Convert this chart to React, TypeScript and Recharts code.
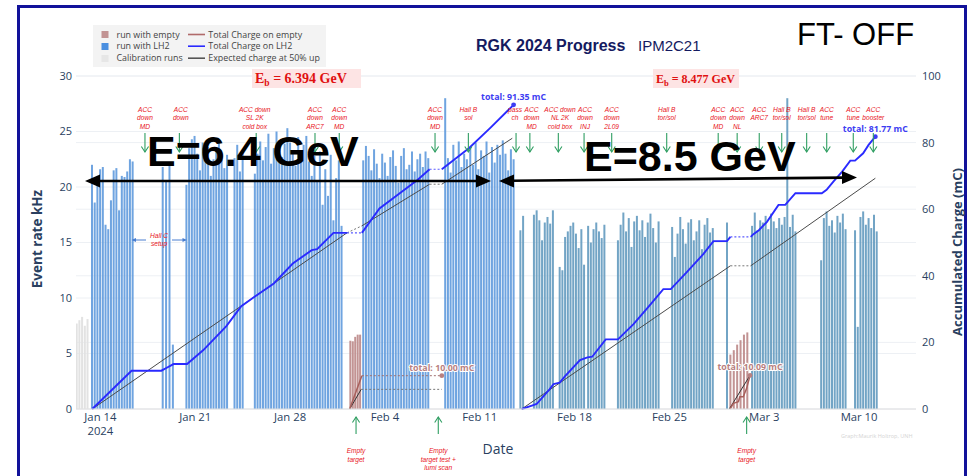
import React from "react";
import {
  ComposedChart,
  Bar,
  Line,
  XAxis,
  YAxis,
  CartesianGrid,
  ReferenceDot,
} from "recharts";

// Day offsets are counted from Jan 14 2024 (day 0).
const DATE_TICKS = [0, 7, 14, 21, 28, 35, 42, 49, 56];
const DATE_LABELS = ["Jan 14", "Jan 21", "Jan 28", "Feb 4", "Feb 11", "Feb 18", "Feb 25", "Mar 3", "Mar 10"];
const RATE_TICKS = [0, 5, 10, 15, 20, 25, 30];
const CHARGE_TICKS = [0, 20, 40, 60, 80, 100];

// Run blocks: [first run day, spacing between runs (days), event rates in kHz]
type Block = [number, number, number[]];

const calibrationRuns: Block[] = [[-1.75, 0.2, [7.7, 8.0, 8.3, 7.5, 8.1]]];

const lh2RunsLow: Block[] = [
  [-0.62, 0.2, [22.0, 18.6, 21.0, 21.6, 21.8, 16.6, 16.2, 18.8, 21.5, 21.7, 17.9, 21.0, 20.9, 21.4, 22.5, 22.3]],
  [4.6, 0.25, [21.8, 20.5, 22.2, 5.8]],
  [6.35, 0.2, [20.2, 23.5, 24.3, 24.6, 23.0, 21.5, 24.0, 22.8, 23.6, 21.0, 22.5, 23.4, 24.2, 23.0, 21.7, 22.9]],
  [9.9, 0.2, [22.6, 23.8, 21.4, 23.1]],
  [11.4, 0.2, [21.2, 23.0, 24.1, 22.4, 23.6, 24.8, 22.1, 23.5, 25.0, 24.2, 22.7, 23.9, 25.3, 24.0, 23.1, 21.9, 24.5, 22.6, 23.8, 24.6, 22.3, 21.0]],
  [15.8, 0.2, [22.8, 20.5, 23.2, 18.4, 21.6, 19.2, 22.9, 17.0, 20.8, 22.4, 16.5]],
  [19.4, 0.2, [22.4, 23.7, 22.8, 21.5, 23.4, 22.1, 20.8, 23.0, 22.2, 21.0, 22.7, 23.3, 21.9, 20.4, 22.8, 23.5, 21.6, 22.0, 23.2, 21.4, 22.5, 23.0, 21.8, 23.2, 22.6]],
  [25.45, 0.2, [28.0, 22.6, 21.3, 23.8, 22.4, 24.1, 21.8, 23.0, 22.5]],
  [27.3, 0.2, [23.5, 22.0, 24.0, 21.6, 23.3, 22.8, 24.1, 21.3, 23.6, 22.2, 23.8, 22.9, 24.2, 23.0, 21.5, 23.4, 22.5]],
];

const lh2RunsHigh: Block[] = [
  [31.0, 0.2, [16.1, 17.4]],
  [32.0, 0.2, [17.5, 17.9, 17.0, 15.2, 16.8, 17.3, 16.7, 17.9]],
  [33.9, 0.2, [12.8, 12.5, 15.5, 16.0, 16.5, 16.8, 15.8, 14.5, 16.2, 13.0]],
  [36.0, 0.2, [16.5, 15.0, 16.2, 16.8, 16.0, 15.4, 16.6]],
  [38.2, 0.2, [15.2, 16.6, 17.7, 16.0, 17.2, 14.6, 16.9, 17.4, 16.1, 17.0, 15.5, 16.8, 17.6, 16.3, 15.0, 16.9]],
  [42.2, 0.2, [16.4, 13.7, 15.8, 17.3, 16.2, 14.9, 16.8, 17.1, 15.2, 16.0, 17.0, 14.4, 16.6, 17.2, 15.9, 16.3]],
  [46.25, 0.2, [16.8]],
  [48.1, 0.2, [16.5, 17.7, 16.1, 17.0, 16.8, 17.4, 16.2, 17.6, 16.9, 16.3, 17.2, 16.6, 17.3, 28.0, 16.4, 17.5, 16.0]],
  [53.2, 0.2, [13.4, 17.2, 17.8, 16.5, 17.0, 15.9, 17.4, 16.8, 17.6, 16.2]],
  [55.7, 0.2, [16.1, 7.4, 17.3, 17.8, 16.6, 17.2, 16.3, 17.5, 16.0]],
];

const emptyRuns: Block[] = [
  [18.45, 0.18, [6.15, 6.1, 6.5, 6.7, 6.7]],
  [46.5, 0.25, [4.9, 5.3, 5.8, 6.2, 6.7, 6.9]],
];

// Accumulated charge (mC) vs day; solid pieces while taking data
type Pt = [number, number];
const lh2ChargeSegments: Pt[][] = [
  [[-0.6, 0], [2.3, 11.5], [4.5, 11.5], [4.9, 12.4], [5.4, 13.5], [6.4, 13.5], [7.6, 17.7], [9.3, 24.9], [10.4, 30.9], [11.3, 33.5], [12.8, 37.7], [14.2, 43.7], [15.6, 47.7], [16.0, 48.0], [17.2, 52.9], [18.2, 52.9]],
  [[19.3, 52.9], [20.6, 60.2], [22.0, 64.5], [23.4, 68.8], [24.3, 72.0]],
  [[25.2, 72.0], [27.2, 78.3], [28.8, 84.5], [30.5, 91.35]],
  [[31.1, 0], [31.85, 1.0], [32.2, 1.5], [33.15, 5.9], [33.45, 7.5], [33.9, 7.9], [34.3, 9.9], [35.4, 14.7], [35.95, 15.5], [36.3, 15.7], [37.3, 20.9], [38.2, 20.9], [39.35, 25.5], [40.45, 30.7], [41.55, 36.0], [42.1, 36.0], [43.3, 41.2], [44.5, 46.5], [45.25, 50.4], [46.25, 50.4], [46.5, 51.7]],
  [[48.0, 51.7], [48.2, 52.5], [48.6, 53.7], [49.2, 56.2], [50.05, 61.3], [50.55, 61.3], [51.3, 64.8], [53.25, 64.8], [53.6, 65.8], [54.1, 68.3], [54.75, 71.3], [55.35, 74.6], [55.7, 74.6], [56.3, 76.8], [56.7, 79.3], [57.2, 81.77]],
];

const expectedSegments: Pt[][] = [
  [[-0.6, 0], [18.2, 52.9]],
  [[19.3, 55.0], [24.3, 67.5]],
  [[25.2, 67.5], [30.4, 81.3]],
  [[31.1, 0], [46.5, 43.0]],
  [[48.0, 43.0], [57.2, 69.3]],
];

const emptyChargeSegments: Pt[][] = [
  [[18.4, 0], [19.3, 10.0]],
  [[46.48, 0], [46.72, 1.7], [47.09, 2.2], [47.2, 3.7], [47.45, 3.7], [47.7, 6.2], [47.95, 10.09]],
];
const emptyChargeHold: Pt[] = [[19.3, 10.0], [25.2, 10.0]];

const emptyExpectedSegments: Pt[][] = [
  [[18.4, 0], [19.25, 5.9]],
  [[46.42, 0], [47.95, 10.1]],
];
const emptyExpectedHold: Pt[] = [[19.25, 5.9], [25.2, 5.9]];

const totals: { day: number; q: number; color: string }[] = [
  { day: 30.5, q: 91.35, color: "#3d3df2" },
  { day: 57.2, q: 81.77, color: "#3d3df2" },
  { day: 25.2, q: 10.0, color: "#b88080" },
  { day: 47.95, q: 10.09, color: "#b88080" },
];

// Operations notes along the top (day, lines, text x-shift in px)
const topNotes: [number, string[], number][] = [
  [3.29, ["ACC", "down", "MD"], 0],
  [5.83, ["ACC", "down"], 1.4],
  [11.5, ["ACC down", "SL 2K", "cold box"], -1.5],
  [15.84, ["ACC", "down", "ARC7"], 0],
  [17.63, ["ACC", "down", "MD"], 0],
  [24.7, ["ACC", "down", "MD"], 0],
  [27.16, ["Hall B", "sol"], 0],
  [30.68, ["pass", "ch"], -1],
  [31.7, ["ACC", "down", "MD"], 1.7],
  [33.8, ["ACC down", "NL 2K", "cold box"], 1.7],
  [35.7, ["ACC", "down", "INJ"], 1],
  [37.74, ["ACC", "down", "2L09"], 0],
  [41.8, ["Hall B", "tor/sol"], 0],
  [45.6, ["ACC", "down", "MD"], 0],
  [47.0, ["ACC", "down", "NL"], 0],
  [48.63, ["ACC", "ARC7"], 0],
  [50.29, ["Hall B", "tor/sol"], 0],
  [52.13, ["Hall B", "tor/sol"], 0],
  [53.61, ["ACC", "tune"], 0],
  [55.57, ["ACC", "tune"], 0],
  [57.05, ["ACC", "booster"], 0],
];

const bottomNotes: [number, string[]][] = [
  [18.87, ["Empty", "target"]],
  [24.94, ["Empty", "target test +", "lumi scan"]],
  [47.7, ["Empty", "target"]],
];

const NOTE_LEVEL = 23.15; // kHz level of the arrow tips

function expand(blocks: Block[], key: string) {
  const out: Record<string, number>[] = [];
  blocks.forEach(([start, step, rates]) =>
    rates.forEach((r, i) => out.push({ day: +(start + i * step).toFixed(3), [key]: r }))
  );
  return out;
}

const runRows = [
  ...expand(calibrationRuns, "calib"),
  ...expand(lh2RunsLow, "lowE"),
  ...expand(lh2RunsHigh, "highE"),
  ...expand(emptyRuns, "empty"),
].sort((a, b) => a.day - b.day);

const toRows = (pts: Pt[]) => pts.map(([day, q]) => ({ day, q }));
// dotted joins between consecutive solid pieces within one beam-energy period
const joins = (segs: Pt[][]) =>
  segs
    .slice(1)
    .map((s, i) => toRows([segs[i][segs[i].length - 1], s[0]]))
    .filter((d) => d[1].q > 0);

const TICK = "#2a3f5f";
const FONT = "'Open Sans', 'Liberation Sans', sans-serif";
const NOTE_FONT = "'Liberation Sans', Arial, sans-serif";

// thin run bar, 2px wide, centred on the run time
const RunBar = (p: any) => {
  const { x, y, width, height, fill, fillOpacity } = p;
  if (!height || height <= 0) return null;
  return <rect x={x + width / 2 - 1} y={y} width={2} height={height} fill={fill} fillOpacity={fillOpacity} />;
};

const DateTick = (props: any) => {
  const { x, y, payload } = props;
  const i = DATE_TICKS.indexOf(payload.value);
  return (
    <g>
      <text x={x} y={y + 10} textAnchor="middle" fill={TICK} fontSize={11.3} fontFamily={FONT}>
        {DATE_LABELS[i]}
      </text>
      {i === 0 && (
        <text x={x} y={y + 24} textAnchor="middle" fill={TICK} fontSize={11.3} fontFamily={FONT}>
          2024
        </text>
      )}
    </g>
  );
};

const topNoteShape = (lines: string[], dx: number) => (p: any) => {
  const { cx, cy } = p;
  const g = "#2f9e62";
  return (
    <g>
      {lines.map((t, i) => (
        <text key={i} x={cx + dx} y={cy - 40 + i * 8.3} textAnchor="middle" fontSize={6.6} fill="#e8141c" fontFamily={NOTE_FONT} fontStyle="italic">
          {t}
        </text>
      ))}
      <line x1={cx} y1={cy - 19} x2={cx} y2={cy} stroke={g} strokeWidth={1.1} />
      <polyline points={`${cx - 3.6},${cy - 5.5} ${cx},${cy} ${cx + 3.6},${cy - 5.5}`} fill="none" stroke={g} strokeWidth={1.1} />
    </g>
  );
};

const bottomNoteShape = (lines: string[]) => (p: any) => {
  const { cx, cy } = p;
  const g = "#2f9e62";
  return (
    <g>
      <line x1={cx} y1={cy + 8} x2={cx} y2={cy + 25} stroke={g} strokeWidth={1.1} />
      <polyline points={`${cx - 3.6},${cy + 13.5} ${cx},${cy + 8} ${cx + 3.6},${cy + 13.5}`} fill="none" stroke={g} strokeWidth={1.1} />
      {lines.map((t, i) => (
        <text key={i} x={cx} y={cy + 44 + i * 8.6} textAnchor="middle" fontSize={6.6} fill="#e8141c" fontFamily={NOTE_FONT} fontStyle="italic">
          {t}
        </text>
      ))}
    </g>
  );
};

const totalShape = (q: number, color: string) => (p: any) => {
  const { cx, cy } = p;
  return (
    <g>
      <circle cx={cx} cy={cy} r={2.4} fill={color} />
      <text x={cx} y={cy - 5} textAnchor="middle" fontSize={8.8} fontWeight="bold" fill={color} fontFamily={FONT} stroke="#fff" strokeWidth={2} paintOrder="stroke">
        {`total: ${q.toFixed(2)} mC`}
      </text>
    </g>
  );
};

const Overlay = () => (
  <svg width={971} height={476} style={{ position: "absolute", left: 0, top: 0, pointerEvents: "none" }}>
    <rect x={18.5} y={6.5} width={947} height={480} fill="none" stroke="#12129a" strokeWidth={3} />

    {/* legend */}
    <rect x={93} y={25} width={233} height={42} fill="#f3f3f3" />
    <rect x={101.5} y={31} width={7} height={7} fill="#c29393" />
    <rect x={101.5} y={43} width={7} height={7} fill="#4a8fe0" />
    <rect x={101.5} y={55} width={7} height={7} fill="#e6e6e6" />
    <g fontFamily={FONT} fontSize={8.9} fill="#444">
      <text x={116.5} y={37.6}>run with empty</text>
      <text x={116.5} y={49.4}>run with LH2</text>
      <text x={116.5} y={61.4}>Calibration runs</text>
      <text x={208.3} y={37.6}>Total Charge on empty</text>
      <text x={208.3} y={49.4}>Total Charge on LH2</text>
      <text x={208.3} y={61.4}>Expected charge at 50% up</text>
    </g>
    <line x1={188} y1={34.5} x2={205} y2={34.5} stroke="#b06a6a" strokeWidth={1.6} />
    <line x1={188} y1={46.2} x2={205} y2={46.2} stroke="#2a2aff" strokeWidth={1.6} />
    <line x1={188} y1={58.2} x2={205} y2={58.2} stroke="#555" strokeWidth={1.6} />

    {/* title */}
    <text x={476} y={51} fontFamily="'Liberation Sans', Arial, sans-serif" fontSize={16} fontWeight="bold" fill="#141a60">
      RGK 2024 Progress
    </text>
    <text x={638} y={51} fontFamily="'Liberation Sans', Arial, sans-serif" fontSize={15} fill="#141a60">
      IPM2C21
    </text>
    <text x={797} y={45} fontFamily="'Liberation Sans', Arial, sans-serif" fontSize={31} fill="#000">
      FT- OFF
    </text>

    {/* beam energy tags */}
    <rect x={252} y={69} width={109} height={19} fill="#fde4e4" />
    <text x={255} y={83} fontFamily="'Liberation Serif', 'Times New Roman', serif" fontSize={14} fontWeight="bold" fill="#e01010">
      E<tspan fontSize={9.5} dy={3}>b</tspan><tspan dy={-3}> = 6.394 GeV</tspan>
    </text>
    <rect x={653} y={69} width={86} height={19} fill="#fde4e4" />
    <text x={656} y={83} fontFamily="'Liberation Serif', 'Times New Roman', serif" fontSize={12} fontWeight="bold" fill="#e01010">
      E<tspan fontSize={8.5} dy={3}>b</tspan><tspan dy={-3}> = 8.477 GeV</tspan>
    </text>

    {/* beam energy periods */}
    <text x={147} y={166} fontFamily="'Liberation Sans', Arial, sans-serif" fontSize={43} fontWeight="bold" fill="#000">
      E=6.4 GeV
    </text>
    <text x={584} y={171} fontFamily="'Liberation Sans', Arial, sans-serif" fontSize={43} fontWeight="bold" fill="#000">
      E=8.5 GeV
    </text>
    <line x1={97} y1={181} x2={478} y2={181} stroke="#000" strokeWidth={2.6} />
    <polygon points="85,181 100,174.5 100,187.5" fill="#000" />
    <polygon points="491,181 476,174.5 476,187.5" fill="#000" />
    <line x1={511} y1={180.7} x2={845} y2={177.6} stroke="#000" strokeWidth={2.6} />
    <polygon points="499,181 514,174.5 514,187.5" fill="#000" />
    <polygon points="857,177.5 842,171 842,184" fill="#000" />

    {/* Hall C setup */}
    <text x={159} y={237.5} textAnchor="middle" fontFamily={NOTE_FONT} fontStyle="italic" fontSize={6.6} fill="#e8141c">Hall C</text>
    <text x={159} y={246} textAnchor="middle" fontFamily={NOTE_FONT} fontStyle="italic" fontSize={6.6} fill="#e8141c">setup</text>
    <line x1={133} y1={240} x2={146} y2={240} stroke="#4a7fd0" strokeWidth={1} />
    <polygon points="131.5,240 136,238 136,242" fill="#4a7fd0" />
    <line x1={172} y1={240} x2={185} y2={240} stroke="#4a7fd0" strokeWidth={1} />
    <polygon points="187,240 182.5,238 182.5,242" fill="#4a7fd0" />

    {/* axis titles */}
    <text transform="translate(42,239) rotate(-90)" textAnchor="middle" fontFamily={FONT} fontSize={13.5} fontWeight="bold" fill={TICK}>
      Event rate kHz
    </text>
    <text transform="translate(962,252) rotate(-90)" textAnchor="middle" fontFamily={FONT} fontSize={13} fontWeight="bold" fill={TICK}>
      Accumulated Charge (mC)
    </text>
    <text x={498} y={454} textAnchor="middle" fontFamily={FONT} fontSize={14} fill={TICK}>
      Date
    </text>
    <text x={841} y={438} fontFamily={FONT} fontSize={5.5} fill="#d4d4d4">
      Graph:Maurik Holtrop, UNH
    </text>
  </svg>
);

export default function App() {
  return (
    <div style={{ position: "absolute", left: 0, top: 0, width: 971, height: 476, background: "#fff", overflow: "hidden" }}>
      <ComposedChart
        width={971}
        height={476}
        data={runRows}
        margin={{ top: 76, right: 10, bottom: 37, left: 26 }}
      >
        <CartesianGrid yAxisId="rate" vertical={false} stroke="#edf0f4" strokeWidth={1} />
        <CartesianGrid yAxisId="charge" vertical={false} stroke="#edf0f4" strokeWidth={1} />
        <XAxis
          dataKey="day"
          type="number"
          domain={[-1.8, 60.2]}
          ticks={DATE_TICKS}
          allowDataOverflow
          tick={<DateTick />}
          tickLine={false}
          tickSize={0}
          tickMargin={2}
          height={30}
          axisLine={{ stroke: "#e2e2e2" }}
          interval={0}
        />
        <YAxis
          yAxisId="rate"
          orientation="left"
          domain={[0, 30]}
          ticks={RATE_TICKS}
          width={50}
          tickLine={false}
          tickSize={0}
          tickMargin={4}
          axisLine={false}
          tick={{ fill: TICK, fontSize: 11, fontFamily: FONT }}
        />
        <YAxis
          yAxisId="charge"
          orientation="right"
          domain={[0, 100]}
          ticks={CHARGE_TICKS}
          width={45}
          tickLine={false}
          tickSize={0}
          tickMargin={6}
          axisLine={false}
          tick={{ fill: TICK, fontSize: 11, fontFamily: FONT }}
        />

        <Bar yAxisId="rate" dataKey="calib" stackId="runs" fill="#e2e2e2" shape={RunBar} isAnimationActive={false} />
        <Bar yAxisId="rate" dataKey="lowE" stackId="runs" fill="#5b97dc" fillOpacity={0.88} shape={RunBar} isAnimationActive={false} />
        <Bar yAxisId="rate" dataKey="highE" stackId="runs" fill="#669cc0" fillOpacity={0.92} shape={RunBar} isAnimationActive={false} />
        <Bar yAxisId="rate" dataKey="empty" stackId="runs" fill="#c29393" shape={RunBar} isAnimationActive={false} />

        {expectedSegments.map((s, i) => (
          <Line key={`e${i}`} yAxisId="charge" data={toRows(s)} dataKey="q" stroke="#4a4a4a" strokeWidth={1} dot={false} isAnimationActive={false} />
        ))}
        {joins(expectedSegments).map((d, i) => (
          <Line key={`ej${i}`} yAxisId="charge" data={d} dataKey="q" stroke="#777" strokeWidth={1} strokeDasharray="2 2" dot={false} isAnimationActive={false} />
        ))}
        {emptyExpectedSegments.map((s, i) => (
          <Line key={`x${i}`} yAxisId="charge" data={toRows(s)} dataKey="q" stroke="#333" strokeWidth={1} dot={false} isAnimationActive={false} />
        ))}
        <Line yAxisId="charge" data={toRows(emptyExpectedHold)} dataKey="q" stroke="#777" strokeWidth={1} strokeDasharray="2 2" dot={false} isAnimationActive={false} />
        {emptyChargeSegments.map((s, i) => (
          <Line key={`m${i}`} yAxisId="charge" data={toRows(s)} dataKey="q" stroke="#a8605c" strokeWidth={1.5} dot={false} isAnimationActive={false} />
        ))}
        <Line yAxisId="charge" data={toRows(emptyChargeHold)} dataKey="q" stroke="#a07070" strokeWidth={1} strokeDasharray="2 2" dot={false} isAnimationActive={false} />
        {lh2ChargeSegments.map((s, i) => (
          <Line key={`l${i}`} yAxisId="charge" data={toRows(s)} dataKey="q" stroke="#2a2aff" strokeWidth={1.9} dot={false} isAnimationActive={false} />
        ))}
        {joins(lh2ChargeSegments).map((d, i) => (
          <Line key={`lj${i}`} yAxisId="charge" data={d} dataKey="q" stroke="#5a5aff" strokeWidth={1.2} strokeDasharray="2 2" dot={false} isAnimationActive={false} />
        ))}

        {totals.map((t, i) => (
          <ReferenceDot key={`t${i}`} yAxisId="charge" x={t.day} y={t.q} ifOverflow="visible" shape={totalShape(t.q, t.color)} />
        ))}
        {topNotes.map(([day, lines, dx], i) => (
          <ReferenceDot key={`n${i}`} yAxisId="rate" x={day} y={NOTE_LEVEL} ifOverflow="visible" shape={topNoteShape(lines, dx)} />
        ))}
        {bottomNotes.map(([day, lines], i) => (
          <ReferenceDot key={`b${i}`} yAxisId="rate" x={day} y={0} ifOverflow="visible" shape={bottomNoteShape(lines)} />
        ))}
      </ComposedChart>
      <Overlay />
    </div>
  );
}
